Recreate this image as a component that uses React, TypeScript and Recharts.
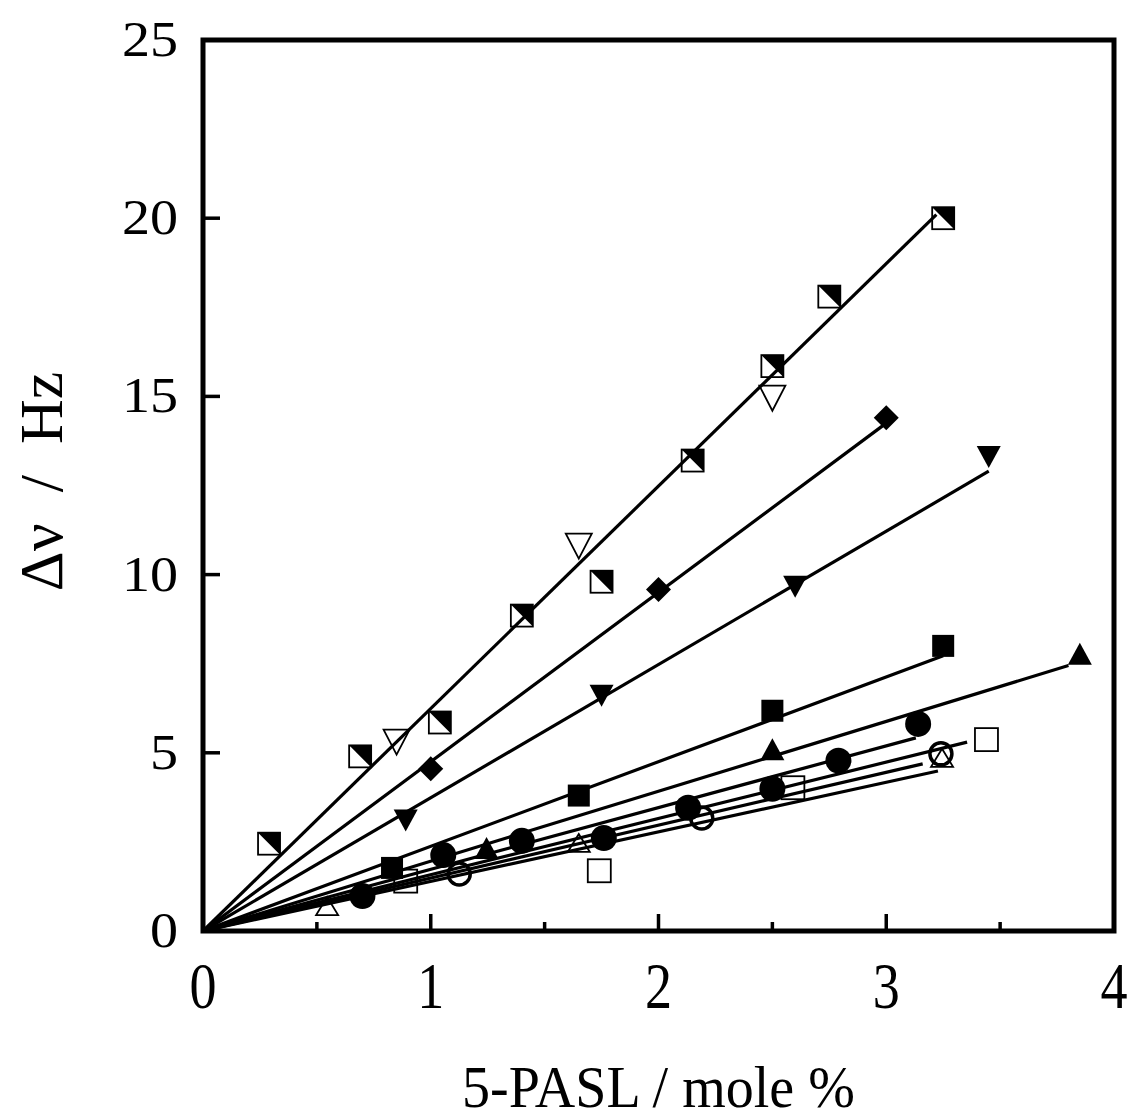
import React from 'react';
import { ScatterChart, Scatter, XAxis, YAxis, ReferenceLine, ReferenceArea } from 'recharts';

// ---- axis ticks ----
const xTicks = [0, 0.5, 1, 1.5, 2, 2.5, 3, 3.5, 4];
const yTicks = [0, 5, 10, 15, 20, 25];

// ---- series data (x = 5-PASL mole %, y = Δν Hz) ----
const halfSqX = [0.29, 0.69, 1.04, 1.4, 1.75, 2.15, 2.5, 2.75, 3.25];
const halfSqY = [2.45, 4.9, 5.85, 8.85, 9.8, 13.2, 15.85, 17.8, 20.0];

const openDownTriX = [0.85, 1.65, 2.5];
const openDownTriY = [5.3, 10.8, 14.95];

const diamondX = [1.0, 2.0, 3.0];
const diamondY = [4.55, 9.58, 14.4];

const downTriX = [0.89, 1.75, 2.6, 3.45];
const downTriY = [3.1, 6.6, 9.66, 13.3];

const filledSqX = [0.83, 1.65, 2.5, 3.25];
const filledSqY = [1.77, 3.8, 6.18, 8.0];

const upTriX = [1.245, 2.5, 3.85];
const upTriY = [2.33, 5.1, 7.78];

const filledCircX = [0.7, 1.055, 1.4, 1.76, 2.13, 2.5, 2.79, 3.14];
const filledCircY = [0.98, 2.13, 2.53, 2.61, 3.46, 3.99, 4.78, 5.81];

const openCircX = [1.125, 2.19, 3.24];
const openCircY = [1.6, 3.17, 4.97];

const openUpTriX = [0.545, 1.65, 3.245];
const openUpTriY = [0.7, 2.47, 4.86];

const openSqX = [0.89, 1.74, 2.59, 3.44];
const openSqY = [1.4, 1.69, 4.02, 5.37];

// ---- fitted lines (from origin to end point) ----
const fitEndX = [3.22, 3.0, 3.45, 3.25, 3.8, 3.13, 3.355, 3.16, 3.227];
const fitEndY = [20.1, 14.25, 12.9, 7.72, 7.45, 5.42, 5.3, 4.69, 4.49];

const zip = (xs: number[], ys: number[]) => xs.map((x, i) => ({ x, y: ys[i] }));

type SP = { cx?: number; cy?: number };
const K = '#000';

const HalfSquare = ({ cx = 0, cy = 0 }: SP) => {
  const h = 11;
  return (
    <g>
      <polygon points={`${cx - h},${cy - h} ${cx + h},${cy - h} ${cx + h},${cy + h}`} fill={K} />
      <rect x={cx - h} y={cy - h} width={2 * h} height={2 * h} fill="none" stroke={K} strokeWidth={1.8} />
    </g>
  );
};
const OpenDownTri = ({ cx = 0, cy = 0 }: SP) => {
  const w = 13, h = 12.5;
  return <polygon points={`${cx - w},${cy - h} ${cx + w},${cy - h} ${cx},${cy + h}`} fill="none" stroke={K} strokeWidth={1.8} />;
};
const Diamond = ({ cx = 0, cy = 0 }: SP) => {
  const r = 12.5;
  return <polygon points={`${cx},${cy - r} ${cx + r},${cy} ${cx},${cy + r} ${cx - r},${cy}`} fill={K} />;
};
const DownTri = ({ cx = 0, cy = 0 }: SP) => {
  const w = 12, h = 11;
  return <polygon points={`${cx - w},${cy - h} ${cx + w},${cy - h} ${cx},${cy + h}`} fill={K} />;
};
const FilledSq = ({ cx = 0, cy = 0 }: SP) => {
  const h = 11;
  return <rect x={cx - h} y={cy - h} width={2 * h} height={2 * h} fill={K} />;
};
const UpTri = ({ cx = 0, cy = 0 }: SP) => {
  const w = 12, h = 11;
  return <polygon points={`${cx - w},${cy + h} ${cx + w},${cy + h} ${cx},${cy - h}`} fill={K} />;
};
const FilledCirc = ({ cx = 0, cy = 0 }: SP) => <circle cx={cx} cy={cy} r={13} fill={K} />;
const OpenCirc = ({ cx = 0, cy = 0 }: SP) => <circle cx={cx} cy={cy} r={11} fill="none" stroke={K} strokeWidth={3.5} />;
const OpenUpTri = ({ cx = 0, cy = 0 }: SP) => {
  const w = 11, h = 9;
  return <polygon points={`${cx - w},${cy + h} ${cx + w},${cy + h} ${cx},${cy - h}`} fill="none" stroke={K} strokeWidth={1.8} />;
};
const OpenSq = ({ cx = 0, cy = 0 }: SP) => {
  const h = 11.5;
  return <rect x={cx - h} y={cy - h} width={2 * h} height={2 * h} fill="none" stroke={K} strokeWidth={1.8} />;
};

const series = [
  { key: 'halfSq', data: zip(halfSqX, halfSqY), shape: HalfSquare },
  { key: 'openDownTri', data: zip(openDownTriX, openDownTriY), shape: OpenDownTri },
  { key: 'diamond', data: zip(diamondX, diamondY), shape: Diamond },
  { key: 'downTri', data: zip(downTriX, downTriY), shape: DownTri },
  { key: 'filledSq', data: zip(filledSqX, filledSqY), shape: FilledSq },
  { key: 'upTri', data: zip(upTriX, upTriY), shape: UpTri },
  { key: 'filledCirc', data: zip(filledCircX, filledCircY), shape: FilledCirc },
  { key: 'openCirc', data: zip(openCircX, openCircY), shape: OpenCirc },
  { key: 'openUpTri', data: zip(openUpTriX, openUpTriY), shape: OpenUpTri },
  { key: 'openSq', data: zip(openSqX, openSqY), shape: OpenSq },
];

const FONT = "'Liberation Serif', 'Times New Roman', serif";

const XTick = (props: any) => {
  const { x, y, payload } = props;
  const v = payload.value as number;
  const major = Number.isInteger(v);
  return (
    <g>
      <line x1={x} y1={y} x2={x} y2={y - (major ? 17 : 9)} stroke={K} strokeWidth={3.5} />
      {major && (
        <text
          transform={`translate(${x},${y + 77}) scale(0.82,1)`}
          textAnchor="middle"
          fontFamily={FONT}
          fontSize={66}
          fill={K}
        >
          {v}
        </text>
      )}
    </g>
  );
};

const YTick = (props: any) => {
  const { x, y, payload } = props;
  const v = payload.value as number;
  return (
    <g>
      <line x1={x} y1={y} x2={x + 17} y2={y} stroke={K} strokeWidth={3.5} />
      <text
        transform={`translate(${x - 25},${y + 16}) scale(1.1,1)`}
        textAnchor="end"
        fontFamily={FONT}
        fontSize={51}
        fill={K}
      >
        {v}
      </text>
    </g>
  );
};

const XTitle = (props: any) => {
  const vb = props.viewBox || {};
  const cx = vb.x + vb.width / 2;
  return (
    <text
      transform={`translate(${cx},${vb.y + 176}) scale(0.95,1)`}
      textAnchor="middle"
      fontFamily={FONT}
      fontSize={59}
      fill={K}
    >
      5-PASL / mole %
    </text>
  );
};

const YTitle = (props: any) => {
  const vb = props.viewBox || {};
  const cy = vb.y + vb.height / 2 - 4;
  return (
    <text
      transform={`translate(62,${cy}) rotate(-90)`}
      textAnchor="middle"
      fontFamily={FONT}
      fontSize={62}
      fill={K}
      style={{ whiteSpace: 'pre' }}
    >
      {'Δν  /  Hz'}
    </text>
  );
};

export default function App() {
  return (
    <div style={{ position: 'fixed', left: 0, top: 0, width: 1129, height: 1120, overflow: 'hidden', background: '#fff' }}>
      <ScatterChart
        width={1129}
        height={1120}
        margin={{ top: 40, right: 15, bottom: 0, left: 0 }}
      >
        <XAxis
          type="number"
          dataKey="x"
          domain={[0, 4]}
          ticks={xTicks}
          interval={0}
          height={189}
          axisLine={false}
          tickLine={false}
          tickSize={0}
          tickMargin={0}
          tick={<XTick />}
          label={{ content: <XTitle /> }}
          allowDataOverflow
        />
        <YAxis
          type="number"
          dataKey="y"
          domain={[0, 25]}
          ticks={yTicks}
          interval={0}
          width={203}
          axisLine={false}
          tickLine={false}
          tickSize={0}
          tickMargin={0}
          tick={<YTick />}
          label={{ content: <YTitle /> }}
          allowDataOverflow
        />
        {fitEndX.map((ex, i) => (
          <ReferenceLine
            key={'fit' + i}
            segment={[{ x: 0, y: 0 }, { x: ex, y: fitEndY[i] }]}
            stroke={K}
            strokeWidth={3.2}
            ifOverflow="visible"
          />
        ))}
        {series.map((s) => (
          <Scatter key={s.key} data={s.data} shape={s.shape as any} isAnimationActive={false} />
        ))}
        <ReferenceArea x1={0} x2={4} y1={0} y2={25} fill="none" stroke={K} strokeWidth={5} ifOverflow="visible" />
      </ScatterChart>
    </div>
  );
}
